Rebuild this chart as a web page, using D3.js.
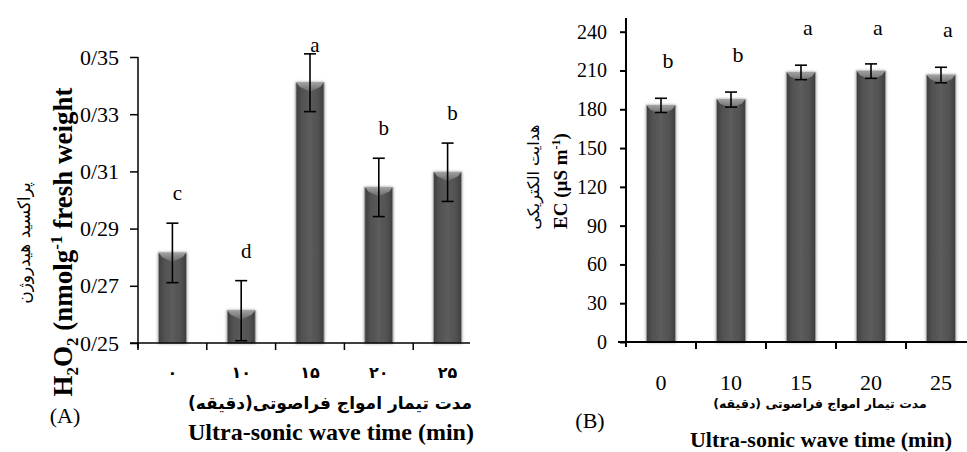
<!DOCTYPE html>
<html>
<head>
<meta charset="utf-8">
<script src="https://cdn.jsdelivr.net/npm/d3@7"></script>
<style>
  body { margin: 0; background: #fff; }
  svg { display: block; }
</style>
</head>
<body>
<svg id="chart" width="967" height="452"></svg>
<script>
// panel A : hydrogen peroxide
var timesA = ['۰', '۱۰', '۱۵', '۲۰', '۲۵'];
var h2o2 = [0.2815, 0.2613, 0.341, 0.3044, 0.3097];
var h2o2Err = [0.0104, 0.0105, 0.0101, 0.0102, 0.0102];
var lettersA = ['c', 'd', 'a', 'b', 'b'];
var ticksA = [0.25, 0.27, 0.29, 0.31, 0.33, 0.35];
var tickLabelsA = ['0/25', '0/27', '0/29', '0/31', '0/33', '0/35'];

// panel B : electrical conductivity
var timesB = ['0', '10', '15', '20', '25'];
var ec = [183, 187.5, 208.5, 209.5, 206.5];
var ecErr = [5.5, 5.8, 5.6, 5.6, 6];
var lettersB = ['b', 'b', 'a', 'a', 'a'];
var ticksB = [0, 30, 60, 90, 120, 150, 180, 210, 240];

var SERIF = '"Liberation Serif", "Times New Roman", serif';
var FA = '"DejaVu Sans", sans-serif';

var svg = d3.select('#chart');
var defs = svg.append('defs');

var grad = defs.append('linearGradient').attr('id', 'barGrad')
    .attr('x1', '0%').attr('x2', '100%').attr('y1', '0%').attr('y2', '0%');
grad.append('stop').attr('offset', '0%').attr('stop-color', '#3c3c3c');
grad.append('stop').attr('offset', '18%').attr('stop-color', '#505050');
grad.append('stop').attr('offset', '50%').attr('stop-color', '#5c5c5c');
grad.append('stop').attr('offset', '82%').attr('stop-color', '#505050');
grad.append('stop').attr('offset', '100%').attr('stop-color', '#3c3c3c');

var capGrad = defs.append('linearGradient').attr('id', 'capGrad')
    .attr('x1', '0%').attr('x2', '0%').attr('y1', '0%').attr('y2', '100%');
capGrad.append('stop').attr('offset', '0%').attr('stop-color', '#a8a8a8');
capGrad.append('stop').attr('offset', '100%').attr('stop-color', '#6a6a6a');

var shadow = defs.append('filter').attr('id', 'glow')
    .attr('x', '-30%').attr('y', '-10%').attr('width', '160%').attr('height', '120%');
shadow.append('feDropShadow').attr('dx', 0).attr('dy', 0)
    .attr('stdDeviation', 1.4).attr('flood-color', '#777').attr('flood-opacity', 0.8);

function drawPanel(o) {
  var x = d3.scaleBand().domain(o.cats).range([o.left, o.right]).paddingInner(0).paddingOuter(0);
  var y = d3.scaleLinear().domain(o.domain).range([o.bottom, o.top]);
  var g = svg.append('g');

  // y axis
  var yAxis = d3.axisLeft(y).tickValues(o.ticks).tickSize(o.tickSize).tickPadding(o.tickPad)
      .tickFormat(function(d, i) { return o.tickLabels ? o.tickLabels[i] : d; });
  var ya = g.append('g').attr('transform', 'translate(' + o.left + ',0)').call(yAxis);
  ya.select('.domain').remove();
  ya.selectAll('line').attr('stroke', '#000').attr('stroke-width', o.lw);
  ya.selectAll('text').style('font-family', SERIF).style('font-size', o.tickFont + 'px').attr('fill', '#000');
  g.append('line').attr('x1', o.left).attr('x2', o.left)
      .attr('y1', o.axisTop).attr('y2', o.bottom + 5)
      .attr('stroke', '#000').attr('stroke-width', o.lw);

  // bars
  var bars = g.selectAll('.bar').data(o.values).enter().append('g');
  var bw = o.barW;
  bars.append('rect')
      .attr('x', function(d, i) { return x(o.cats[i]) + x.bandwidth() / 2 - bw / 2; })
      .attr('y', function(d) { return y(d); })
      .attr('width', bw)
      .attr('height', function(d) { return o.bottom - y(d); })
      .attr('fill', 'url(#barGrad)')
      .attr('stroke', '#a0a0a0').attr('stroke-width', 0.8)
      .attr('filter', 'url(#glow)');
  bars.append('path')
      .attr('d', function(d, i) {
        var cx = x(o.cats[i]) + x.bandwidth() / 2, t = y(d);
        var x0 = cx - bw / 2 + 0.5, x1 = cx + bw / 2 - 0.5;
        return 'M' + x0 + ',' + t + 'L' + x1 + ',' + t + 'L' + (x1 - 3) + ',' + (t + 4) +
          'L' + cx + ',' + (t + 9) + 'L' + (x0 + 3) + ',' + (t + 4) + 'Z';
      })
      .attr('fill', 'url(#capGrad)').attr('opacity', 0.9);

  // error bars
  var eb = g.selectAll('.err').data(o.values).enter().append('g').attr('stroke', '#000').attr('stroke-width', 1.6);
  eb.append('line')
      .attr('x1', function(d, i) { return x(o.cats[i]) + x.bandwidth() / 2; })
      .attr('x2', function(d, i) { return x(o.cats[i]) + x.bandwidth() / 2; })
      .attr('y1', function(d, i) { return y(d + o.errs[i]); })
      .attr('y2', function(d, i) { return y(d - o.errs[i]); });
  [1, -1].forEach(function(s) {
    eb.append('line')
        .attr('x1', function(d, i) { return x(o.cats[i]) + x.bandwidth() / 2 - 6; })
        .attr('x2', function(d, i) { return x(o.cats[i]) + x.bandwidth() / 2 + 6; })
        .attr('y1', function(d, i) { return y(d + s * o.errs[i]); })
        .attr('y2', function(d, i) { return y(d + s * o.errs[i]); });
  });

  // significance letters
  g.selectAll('.let').data(o.letters).enter().append('text')
      .style('font-family', SERIF).style('font-size', o.letterFont + 'px').attr('text-anchor', 'middle')
      .attr('x', function(d, i) { return x(o.cats[i]) + x.bandwidth() / 2 + o.letterDx; })
      .attr('y', function(d, i) { return Math.max(y(o.values[i] + o.errs[i]) - o.letterGap, o.letterMin); })
      .text(function(d) { return d; });

  // x axis
  var xAxis = d3.axisBottom(x).tickSize(0).tickPadding(o.xPad);
  var xa = g.append('g').attr('transform', 'translate(0,' + o.bottom + ')').call(xAxis);
  xa.select('.domain').remove();
  xa.selectAll('text').style('font-family', o.xFamily).style('font-size', o.xFont + 'px')
      .style('font-weight', o.xWeight).attr('fill', '#000');
  g.append('line').attr('x1', o.left - 8).attr('x2', o.axisRight)
      .attr('y1', o.bottom).attr('y2', o.bottom)
      .attr('stroke', '#000').attr('stroke-width', o.lw);
  g.selectAll('.bt').data(o.cats.slice(o.firstTick)).enter().append('line')
      .attr('x1', function(d) { return x(d); }).attr('x2', function(d) { return x(d); })
      .attr('y1', o.bottom).attr('y2', o.bottom + 7)
      .attr('stroke', '#000').attr('stroke-width', o.lw);
  return g;
}

drawPanel({
  cats: timesA, values: h2o2, errs: h2o2Err, letters: lettersA,
  domain: [0.25, 0.35], ticks: ticksA, tickLabels: tickLabelsA,
  left: 138, right: 482, top: 57, bottom: 343, axisTop: 57, axisRight: 470,
  barW: 28, lw: 1.5, tickSize: 8, tickPad: 11, tickFont: 22,
  letterFont: 21, letterDx: 5, letterGap: 23, letterMin: 52,
  xPad: 24, xFont: 16, xWeight: 'bold', xFamily: FA, firstTick: 0
});

drawPanel({
  cats: timesB, values: ec, errs: ecErr, letters: lettersB,
  domain: [0, 240], ticks: ticksB, tickLabels: null,
  left: 626, right: 976, top: 31.7, bottom: 342, axisTop: 18, axisRight: 967,
  barW: 29, lw: 2, tickSize: 6, tickPad: 13, tickFont: 20,
  letterFont: 22, letterDx: 7, letterGap: 30, letterMin: 35,
  xPad: 32, xFont: 22, xWeight: 'normal', xFamily: SERIF, firstTick: 1
});

function label(txt, fam, size, weight, x, y, rot) {
  var t = svg.append('text').style('font-family', fam).style('font-size', size + 'px')
      .style('font-weight', weight).attr('text-anchor', 'middle')
      .attr('transform', 'translate(' + x + ',' + y + ')' + (rot ? ' rotate(-90)' : ''));
  if (txt) t.text(txt);
  return t;
}

// axis titles, panel A
var tA = label(null, SERIF, 27, 'bold', 72, 242, true);
tA.append('tspan').text('H');
tA.append('tspan').style('font-size', '17px').attr('dy', 6).text('2');
tA.append('tspan').attr('dy', -6).text('O');
tA.append('tspan').style('font-size', '17px').attr('dy', 6).text('2');
tA.append('tspan').attr('dy', -6).text(' (nmolg');
tA.append('tspan').style('font-size', '17px').attr('dy', -10).text('-1');
tA.append('tspan').attr('dy', 10).text(' fresh weight');

label('پراکسید هیدروژن', FA, 17, 'normal', 30, 243, true);
label('مدت تیمار امواج فراصوتی(دقیقه)', FA, 17, 'bold', 330, 409, false);
label('Ultra-sonic wave time (min)', SERIF, 24, 'bold', 331, 440, false);
label('(A)', SERIF, 22, 'normal', 65, 423, false);

// axis titles, panel B
var tB = label(null, SERIF, 19, 'bold', 567, 181, true);
tB.append('tspan').text('EC (µS m');
tB.append('tspan').style('font-size', '12px').attr('dy', -7).text('-1');
tB.append('tspan').attr('dy', 7).text(')');

label('هدایت الکتریکی', FA, 16, 'normal', 539, 177, true);
label('مدت تیمار امواج فراصوتی (دقیقه)', FA, 12.5, 'bold', 820, 408, false);
label('Ultra-sonic wave time (min)', SERIF, 22, 'bold', 821, 447, false);
label('(B)', SERIF, 22, 'normal', 590, 428, false);
</script>
</body>
</html>
